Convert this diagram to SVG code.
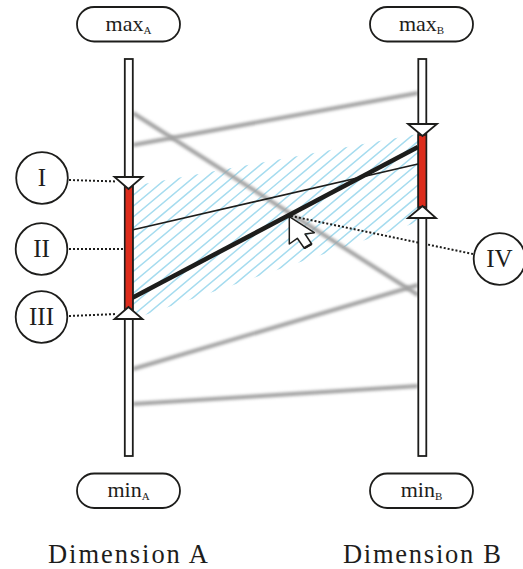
<svg xmlns="http://www.w3.org/2000/svg" width="523" height="569" viewBox="0 0 523 569">
<style>
text{font-family:"Liberation Serif","DejaVu Serif",serif;fill:#1d1d1b;text-anchor:middle}
.lab{font-size:22px}
.sub{font-size:11px}
.num{font-size:25px}
.dim{font-size:26.5px}
.shape{fill:#fff;stroke:#1d1d1b;stroke-width:1.800}
.axis{fill:#fff;stroke:#1d1d1b;stroke-width:1.800}
.red{fill:#dc2c1c;stroke:#1d1d1b;stroke-width:1.500}
.ghost{stroke:#a0a0a0;stroke-width:4;fill:none;filter:url(#blur)}
.dot{stroke:#1d1d1b;stroke-width:2;stroke-dasharray:2 2;fill:none}
</style>
<defs>
<filter id="blur" filterUnits="userSpaceOnUse" x="0" y="0" width="523" height="569"><feGaussianBlur stdDeviation="1.400"/></filter>
<clipPath id="band"><polygon points="133,186 418,134 418,222 133,319"/></clipPath>
</defs>
<path clip-path="url(#band)" fill="none" stroke="#a6dcef" stroke-width="1.500" d="M133 184.600l285 -239.400M133 195.500l285 -239.400M133 206.400l285 -239.400M133 217.300l285 -239.400M133 228.200l285 -239.400M133 239.100l285 -239.400M133 250l285 -239.400M133 260.900l285 -239.400M133 271.800l285 -239.400M133 282.700l285 -239.400M133 293.600l285 -239.400M133 304.500l285 -239.400M133 315.400l285 -239.400M133 326.300l285 -239.400M133 337.200l285 -239.400M133 348.100l285 -239.400M133 359l285 -239.400M133 369.900l285 -239.400M133 380.800l285 -239.400M133 391.700l285 -239.400M133 402.600l285 -239.400M133 413.500l285 -239.400M133 424.400l285 -239.400M133 435.300l285 -239.400M133 446.200l285 -239.400M133 457.100l285 -239.400"/>
<g id="connectors">
<line class="ghost" x1="133" y1="113" x2="418" y2="295"/>
<line class="ghost" x1="133" y1="145" x2="418" y2="93"/>
<line class="ghost" x1="133" y1="369" x2="418" y2="285"/>
<line class="ghost" x1="133" y1="404" x2="418" y2="386"/>
<line x1="132" y1="230" x2="418" y2="164" stroke="#1d1d1b" stroke-width="1.700"/>
<line x1="132" y1="298" x2="418" y2="147" stroke="#1d1d1b" stroke-width="4.600"/>
<line class="dot" x1="69" y1="180" x2="117" y2="181.500"/>
<line class="dot" x1="69" y1="249" x2="125" y2="249"/>
<line class="dot" x1="69" y1="316" x2="117" y2="314"/>
<line class="dot" x1="291" y1="216" x2="473" y2="254"/>
</g>
<g id="axis-a">
<rect class="axis" x="124.800" y="59" width="8" height="397"/>
<rect class="red" x="124.800" y="186" width="8" height="124"/>
<polygon class="shape" points="114.500,177 142.500,177 128.500,189"/>
<polygon class="shape" points="114.500,319 142.500,319 128.500,307"/>
</g>
<g id="axis-b">
<rect class="axis" x="418.300" y="59" width="8" height="397"/>
<rect class="red" x="418.300" y="135" width="8" height="72"/>
<polygon class="shape" points="408,124 437,124 422.500,136"/>
<polygon class="shape" points="408,218 436,218 422.500,206"/>
</g>
<g id="cursor">
<polygon points="289.300,216.700 289.300,244 297.300,238.300 304.300,248.300 311.700,244 305,234 314.300,232.700" fill="#fff" stroke="#1d1d1b" stroke-width="1.500" stroke-linejoin="round"/>
<line x1="304.500" y1="248" x2="311.500" y2="244" stroke="#1d1d1b" stroke-width="2.500"/>
</g>
<g id="max-a"><rect class="shape" x="77" y="7" width="103" height="34.500" rx="17.200"/><text class="lab" x="128.500" y="31">max<tspan class="sub" dy="3">A</tspan></text></g>
<g id="max-b"><rect class="shape" x="370" y="7" width="103" height="34.500" rx="17.200"/><text class="lab" x="421.500" y="31">max<tspan class="sub" dy="3">B</tspan></text></g>
<g id="min-a"><rect class="shape" x="77" y="473.500" width="103" height="34.500" rx="17.200"/><text class="lab" x="128.500" y="497">min<tspan class="sub" dy="3">A</tspan></text></g>
<g id="min-b"><rect class="shape" x="370" y="473.500" width="103" height="34.500" rx="17.200"/><text class="lab" x="421.500" y="497">min<tspan class="sub" dy="3">B</tspan></text></g>
<g id="n1"><circle class="shape" cx="42" cy="178" r="25.800"/><text class="num" x="42" y="186">I</text></g>
<g id="n2"><circle class="shape" cx="41.500" cy="249" r="25.800"/><text class="num" x="41.500" y="257">II</text></g>
<g id="n3"><circle class="shape" cx="41.500" cy="317" r="25.800"/><text class="num" x="41.500" y="325">III</text></g>
<g id="n4"><circle class="shape" cx="499.500" cy="259" r="25.800"/><text class="num" x="499.500" y="267">IV</text></g>
<text class="dim" x="128" y="563" textLength="160" lengthAdjust="spacing">Dimension A</text>
<text class="dim" x="422" y="563" textLength="158" lengthAdjust="spacing">Dimension B</text>
</svg>
